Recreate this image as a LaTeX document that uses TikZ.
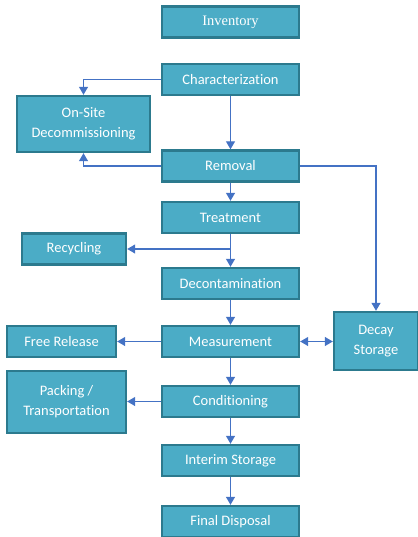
\documentclass[tikz,border=0pt]{standalone}
\usepackage{fontspec}
\setmainfont{Carlito}[Ligatures=NoCommon]
\newfontfamily\serifbox{Liberation Serif}
\usepackage{tikz}
\usetikzlibrary{positioning, arrows.meta, calc}
\definecolor{boxfill}{HTML}{4BACC6}
\definecolor{boxline}{HTML}{2C7A8E}
\definecolor{flowline}{HTML}{4472C4}
\def\colx{230.5}

\begin{document}
\begin{tikzpicture}[x=1pt, y=-1pt,
    box/.style={draw=boxline, fill=boxfill, line width=2.4pt, text=white,
        minimum width=137pt, minimum height=31pt, inner sep=0pt, align=center,
        font=\fontsize{14.5}{20}\selectfont},
    flow/.style={draw=flowline, line width=1.2pt,
        -{Triangle[width=9pt, length=8pt]}}]
    \useasboundingbox (0,0) rectangle (417,537);

    % main column
    \foreach \name/\y/\txt in {
        char/79.5/Characterization,
        removal/166/Removal,
        treat/217.5/Treatment,
        decon/283.5/Decontamination,
        meas/341.5/Measurement,
        cond/401.5/Conditioning,
        interim/460.5/Interim Storage,
        final/521.5/Final Disposal}{

        \node[box] (\name) at (\colx, \y) {\txt};
    }
    \node[box, font=\serifbox\fontsize{14.5}{20}\selectfont] (inv) at (\colx, 22) {Inventory};

    % side boxes
    \node[box, minimum width=133pt, minimum height=56pt] (onsite) at (83.5, 124) {On-Site\\Decommissioning};
    \node[box, minimum width=104pt] (recyc) at (74, 249) {Recycling};
    \node[box, minimum width=109pt] (free) at (61.5, 341.5) {Free Release};
    \node[box, minimum width=119pt, minimum height=62pt] (pack) at (66.5, 402) {Packing /\\Transportation};
    \node[box, minimum width=84pt, minimum height=58pt] (decay) at (376, 341) {Decay\\Storage};

    % connectors
    \draw[flow] (char.west) -| (onsite.north);
    \draw[flow] (char) -- (removal);
    \draw[flow] (removal.west) -| (onsite.south);
    \draw[flow] (removal.east) -| (decay.north);
    \draw[flow] (removal) -- (treat);
    \draw[flow] (treat) -- (decon);
    \coordinate (split) at (treat.south |- recyc.east);
    \draw[flow] (split) -- (recyc.east);
    \draw[flow] (decon) -- (meas);
    \draw[flow] (meas.west) -- (free.east |- meas.west);
    \draw[flow, {Triangle[width=9pt, length=8pt]}-{Triangle[width=9pt, length=8pt]}]
        (meas.east) -- (decay.west |- meas.east);
    \draw[flow] (meas) -- (cond);
    \draw[flow] (cond.west) -- (pack.east |- cond.west);
    \draw[flow] (cond) -- (interim);
    \draw[flow] (interim) -- (final);
\end{tikzpicture}
\end{document}
